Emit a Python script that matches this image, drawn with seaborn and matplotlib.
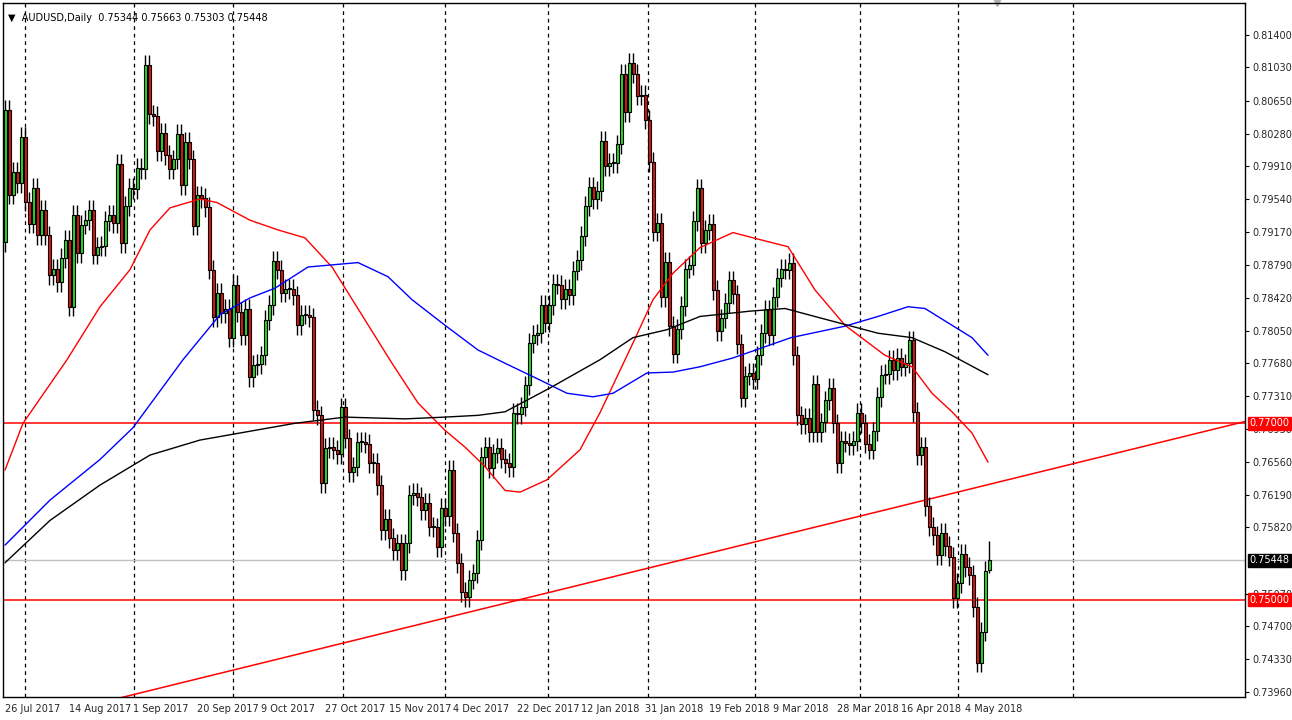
import numpy as np
import pandas as pd
import matplotlib
matplotlib.use('Agg')
import matplotlib.pyplot as plt
import seaborn as sns

# closes, one per daily bar (bar 0 = first visible candle)
closes = [
    0.8055, 0.7959, 0.7985, 0.7972, 0.8024, 0.7951, 0.7926, 0.7967, 0.7913, 0.7942,
    0.7913, 0.7868, 0.7875, 0.7860, 0.7887, 0.7908, 0.7832, 0.7936, 0.7893, 0.7925,
    0.7930, 0.7942, 0.7891, 0.7900, 0.7901, 0.7929, 0.7936, 0.7927, 0.7994, 0.7904,
    0.7946, 0.7967, 0.7965, 0.7989, 0.7988, 0.8106, 0.8050, 0.8048, 0.8008, 0.8029,
    0.8004, 0.7988, 0.7999, 0.8028, 0.7970, 0.8019, 0.7999, 0.7924, 0.7958, 0.7955,
    0.7945, 0.7874, 0.7820, 0.7848, 0.7825, 0.7830, 0.7797, 0.7857, 0.7826, 0.7800,
    0.7830, 0.7752, 0.7766, 0.7767, 0.7777, 0.7817, 0.7834, 0.7884, 0.7874, 0.7848,
    0.7852, 0.7852, 0.7845, 0.7811, 0.7823, 0.7823, 0.7820, 0.7715, 0.7709, 0.7632,
    0.7672, 0.7673, 0.7670, 0.7665, 0.7718, 0.7683, 0.7645, 0.7651, 0.7679, 0.7679,
    0.7677, 0.7655, 0.7655, 0.7630, 0.7579, 0.7592, 0.7570, 0.7556, 0.7564, 0.7534,
    0.7564, 0.7619, 0.7621, 0.7617, 0.7602, 0.7610, 0.7583, 0.7582, 0.7560, 0.7604,
    0.7595, 0.7647, 0.7576, 0.7542, 0.7509, 0.7503, 0.7523, 0.7530, 0.7568, 0.7662,
    0.7673, 0.7649, 0.7666, 0.7672, 0.7660, 0.7655, 0.7650, 0.7712, 0.7710, 0.7719,
    0.7743, 0.7791, 0.7800, 0.7802, 0.7834, 0.7814, 0.7834, 0.7858, 0.7857, 0.7841,
    0.7852, 0.7845, 0.7873, 0.7885, 0.7912, 0.7946, 0.7968, 0.7954, 0.7963, 0.8020,
    0.7991, 0.7995, 0.7995, 0.8016, 0.8096, 0.8052, 0.8108, 0.8096, 0.8071, 0.8072,
    0.8044, 0.7996, 0.7917, 0.7927, 0.7843, 0.7883, 0.7810, 0.7779, 0.7807, 0.7833,
    0.7875, 0.7879, 0.7929, 0.7966, 0.7904, 0.7919, 0.7926, 0.7851, 0.7804, 0.7819,
    0.7836, 0.7862, 0.7846, 0.7790, 0.7729, 0.7754, 0.7757, 0.7750, 0.7777, 0.7802,
    0.7829, 0.7800, 0.7843, 0.7865, 0.7875, 0.7874, 0.7882, 0.7777, 0.7709, 0.7699,
    0.7706, 0.7690, 0.7744, 0.7690, 0.7701, 0.7726, 0.7740, 0.7700, 0.7655, 0.7680,
    0.7678, 0.7675, 0.7680, 0.7712, 0.7700, 0.7677, 0.7670, 0.7691, 0.7730, 0.7755,
    0.7756, 0.7772, 0.7760, 0.7774, 0.7764, 0.7768, 0.7794, 0.7713, 0.7664, 0.7673,
    0.7606, 0.7583, 0.7573, 0.7551, 0.7576, 0.7561, 0.7549, 0.7502, 0.7519, 0.7552,
    0.7537, 0.7528, 0.7492, 0.7429, 0.7464, 0.7533, 0.75448,
]
first_open = 0.7905
last_bar = (0.75344, 0.75663, 0.75303, 0.75448)
wick = 0.0011

# moving averages (bar, price)
ma_red_bar = [0, 4.5, 15.5, 23.75, 31.25, 36.25, 41.25, 48.75, 53, 61.25, 68.25, 75, 81.75, 90,
              96.75, 103.25, 110, 115, 120, 125, 128.75, 135.5, 143.75, 148.75, 157, 162, 167,
              173.75, 182, 188.75, 195.75, 202.5, 210, 220, 226.75, 231.75, 236.75, 241.75, 245.75]
ma_red = [0.7647, 0.7700, 0.7772, 0.7832, 0.7874, 0.7919, 0.7944, 0.7954, 0.7950, 0.7930, 0.7919,
          0.7910, 0.7877, 0.7817, 0.7768, 0.7723, 0.7692, 0.7673, 0.7651, 0.7624, 0.7622, 0.7636,
          0.7670, 0.7712, 0.7791, 0.7840, 0.7870, 0.7899, 0.7916, 0.7908, 0.7900, 0.7851, 0.7811,
          0.7777, 0.7764, 0.7734, 0.7713, 0.7689, 0.7656]
ma_blue_bar = [0, 11.25, 23.75, 32, 44.5, 53.75, 61.25, 67.5, 75.75, 88.25, 95.75, 101.75, 110,
               118.25, 125, 133.75, 140.5, 147, 152, 160.5, 167, 173.75, 182, 196.5, 210, 218.25,
               225.75, 230, 236.75, 241.75, 245.75]
ma_blue = [0.7562, 0.7613, 0.7659, 0.7695, 0.7772, 0.7823, 0.7842, 0.7853, 0.7877, 0.7882, 0.7866,
           0.7840, 0.7811, 0.7783, 0.7768, 0.7749, 0.7734, 0.7730, 0.7734, 0.7757, 0.7758, 0.7764,
           0.7774, 0.7797, 0.7810, 0.7821, 0.7832, 0.7830, 0.7811, 0.7797, 0.7777]
ma_black_bar = [0, 11.25, 23.75, 36.25, 48.75, 60, 72.5, 85, 100, 110, 118.25, 125, 136.25, 148.75,
                157, 165.5, 173.75, 186.25, 195, 205.75, 218.25, 226.75, 235, 245.75]
ma_black = [0.7542, 0.7590, 0.7630, 0.7664, 0.7681, 0.7690, 0.7700, 0.7707, 0.7705, 0.7707, 0.7709,
            0.7713, 0.7740, 0.7772, 0.7797, 0.7806, 0.7821, 0.7827, 0.7830, 0.7817, 0.7802, 0.7797,
            0.7781, 0.7755]

levels = [0.7700, 0.7500]
trend_bar = [28.75, 310]
trend_price = [0.7389, 0.7702]

date_labels = ['26 Jul 2017', '14 Aug 2017', '1 Sep 2017', '20 Sep 2017', '9 Oct 2017',
               '27 Oct 2017', '15 Nov 2017', '4 Dec 2017', '22 Dec 2017', '12 Jan 2018',
               '31 Jan 2018', '19 Feb 2018', '9 Mar 2018', '28 Mar 2018', '16 Apr 2018',
               '4 May 2018']
month_bars = [5, 32.25, 57, 84.5, 110, 135.75, 160.75, 187.5, 213.75, 238.25, 267]
price_ticks = [0.81400, 0.81030, 0.80650, 0.80280, 0.79910, 0.79540, 0.79170, 0.78790,
               0.78420, 0.78050, 0.77680, 0.77310, 0.76930, 0.76560, 0.76190, 0.75820,
               0.75070, 0.74700, 0.74330, 0.73960]

# build OHLC table
c = np.array(closes)
o = np.concatenate([[first_open], c[:-1]])
df = pd.DataFrame({'bar': np.arange(len(c)), 'open': o, 'close': c})
df['high'] = df[['open', 'close']].max(axis=1) + wick
df['low'] = df[['open', 'close']].min(axis=1) - wick
df.loc[df.index[-1], ['open', 'high', 'low', 'close']] = last_bar

sns.set_style('white')
plt.rcParams['font.family'] = ['DejaVu Sans']
fig = plt.figure(figsize=(12.92, 7.2), dpi=100)
ax = fig.add_axes([3 / 1292, 23 / 720, 1242 / 1292, 694 / 720])

ax.set_xlim(-0.5, 310)
ax.set_ylim(0.7390, 0.8176)

for b in month_bars:
    ax.axvline(b, color='black', linestyle=(0, (3, 3)), linewidth=0.9, zorder=0)

ax.axhline(last_bar[3], color='#c0c0c0', linewidth=1, zorder=1)
for lv in levels:
    ax.axhline(lv, color='red', linewidth=1.1, zorder=1)
sns.lineplot(x=trend_bar, y=trend_price, ax=ax, color='red', linewidth=1.1, zorder=1)

up = df['close'] >= df['open']
ax.vlines(df['bar'], df['low'], df['high'], color='black', linewidth=1, zorder=2)
ax.bar(df['bar'], (df['close'] - df['open']).abs().clip(lower=0.00012),
       bottom=df[['open', 'close']].min(axis=1), width=0.75,
       color=np.where(up, '#22dd22', '#e01010'), edgecolor='black', linewidth=0.8, zorder=3)

sns.lineplot(x=ma_red_bar, y=ma_red, ax=ax, color='red', linewidth=1, zorder=4)
sns.lineplot(x=ma_blue_bar, y=ma_blue, ax=ax, color='blue', linewidth=1, zorder=4)
sns.lineplot(x=ma_black_bar, y=ma_black, ax=ax, color='black', linewidth=1, zorder=4)

ax.yaxis.tick_right()
ax.set_yticks(price_ticks)
ax.set_yticklabels([f'{p:.5f}' for p in price_ticks], fontsize=7)
ax.set_xticks(np.arange(len(date_labels)) * 16)
ax.set_xticklabels(date_labels, fontsize=7, ha='left')
ax.tick_params(axis='both', length=3, width=0.8, pad=2, direction='out', color='black')
for s in ax.spines.values():
    s.set_color('black')
    s.set_linewidth(1)

# price labels on the axis
for val, fc, tc in [(0.7700, 'red', 'white'), (0.7500, 'red', 'white'), (last_bar[3], 'black', 'white')]:
    ax.annotate(f'{val:.5f}', xy=(1.0, val), xycoords=('axes fraction', 'data'),
                xytext=(3, 0), textcoords='offset points', va='center', ha='left',
                fontsize=7, color=tc, annotation_clip=False,
                bbox=dict(boxstyle='square,pad=0.15', fc=fc, ec=fc))

ax.text(0.004, 0.985, '\u25bc  AUDUSD,Daily  0.75344 0.75663 0.75303 0.75448',
        transform=ax.transAxes, fontsize=7, va='top', ha='left', color='black')
ax.plot([0.8], [1.0], marker='v', color='#b0b0b0', markersize=5, transform=ax.transAxes, clip_on=False)

fig.savefig('out.png', dpi=100, facecolor='white')
